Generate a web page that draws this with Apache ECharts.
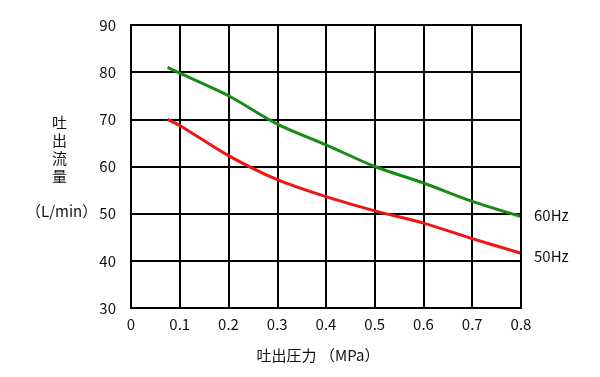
<!DOCTYPE html>
<html>
<head>
<meta charset="utf-8">
<script src="https://cdn.jsdelivr.net/npm/echarts@6/dist/echarts.min.js"></script>
<style>
  html, body { margin: 0; padding: 0; background: #fff; }
  #chart { width: 600px; height: 377px; }
</style>
</head>
<body>
<div id="chart"></div>
<script>
// 吐出圧力 (MPa)
const pressure = [0.075, 0.1, 0.2, 0.3, 0.4, 0.5, 0.6, 0.7, 0.8]
// 吐出流量 (L/min)
const flow60Hz = [81.0, 79.8, 75.0, 69.0, 64.6, 60.0, 56.5, 52.6, 49.4]
const flow50Hz = [70.0, 68.7, 62.3, 57.2, 53.6, 50.6, 48.0, 44.7, 41.6]

const seriesNames = ['60Hz', '50Hz']
const seriesColors = ['#178a17', '#f01414']

const font = '"Noto Sans CJK JP", "Noto Sans", sans-serif'
const textColor = '#111'

const chart = echarts.init(document.getElementById('chart'))

const makeSeries = (name, values, color, dy) => ({
  name,
  type: 'line',
  smooth: 0.3,
  symbol: 'none',
  data: pressure.map((p, i) => [p, values[i]]),
  lineStyle: { color, width: 3 },
  z: 5,
  endLabel: {
    show: true,
    formatter: name,
    color: textColor,
    fontFamily: font,
    fontSize: 15,
    distance: 13,
    offset: [0, dy]
  }
})

chart.setOption({
  animation: false,
  grid: { left: 131, right: 79, top: 25, bottom: 69 },
  xAxis: {
    type: 'value',
    min: 0,
    max: 0.8,
    interval: 0.1,
    name: '吐出圧力 （MPa）',
    nameLocation: 'middle',
    nameGap: 40,
    nameTextStyle: { color: textColor, fontFamily: font, fontSize: 15, padding: [0, 16, 0, 0] },
    axisLine: { show: true, lineStyle: { color: '#000', width: 2 } },
    axisTick: { show: false },
    axisLabel: {
      color: textColor,
      fontFamily: font,
      fontSize: 15,
      margin: 9,
      formatter: v => (v === 0 ? '0' : v.toFixed(1))
    },
    splitLine: { show: true, lineStyle: { color: '#000', width: 2 } }
  },
  yAxis: {
    type: 'value',
    min: 30,
    max: 90,
    interval: 10,
    axisLine: { show: true, lineStyle: { color: '#000', width: 2 } },
    axisTick: { show: false },
    axisLabel: { color: textColor, fontFamily: font, fontSize: 15, margin: 15 },
    splitLine: { show: true, lineStyle: { color: '#000', width: 2 } }
  },
  graphic: [
    {
      type: 'text',
      left: 52,
      top: 113,
      style: {
        text: '吐\n出\n流\n量',
        fill: textColor,
        font: '15px ' + font,
        lineHeight: 18
      }
    },
    {
      type: 'text',
      left: 26,
      top: 204,
      style: {
        text: '（L/min）',
        fill: textColor,
        font: '15px ' + font
      }
    },
    {
      type: 'rect',
      shape: { x: 131, y: 25, width: 390, height: 283 },
      style: { fill: 'none', stroke: '#000', lineWidth: 2 },
      z: 10
    }
  ],
  series: [
    makeSeries(seriesNames[0], flow60Hz, seriesColors[0], -1),
    makeSeries(seriesNames[1], flow50Hz, seriesColors[1], 3)
  ]
})
</script>
</body>
</html>
